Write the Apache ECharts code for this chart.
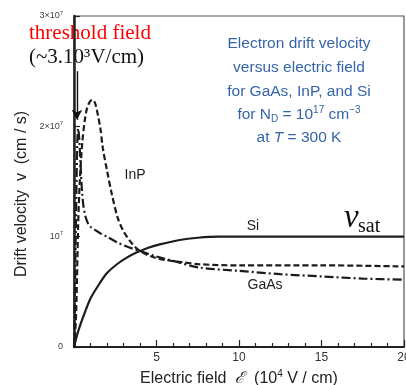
<!DOCTYPE html>
<html>
<head>
<meta charset="utf-8">
<script src="https://cdn.jsdelivr.net/npm/echarts@6/dist/echarts.min.js"></script>
<style>
  html, body { margin: 0; padding: 0; background: #fff; }
  #chart { width: 406px; height: 385px; }
</style>
</head>
<body>
<div id="chart"></div>
<script>
// Datos (campo en 10^4 V/cm, velocidad en 10^7 cm/s)
const gaasE = [0, 0.04, 0.08, 0.12, 0.16, 0.2, 0.25, 0.3, 0.35, 0.4, 0.45, 0.5, 0.58, 0.7, 0.85, 1.0, 1.3, 1.6, 2.0, 2.6, 3.2, 4.0, 5.0, 6.0, 7.6, 10, 12.5, 15, 17.5, 20];
const gaasV = [0, 0.35, 0.75, 1.15, 1.55, 1.85, 1.98, 1.92, 1.8, 1.65, 1.5, 1.38, 1.27, 1.18, 1.12, 1.09, 1.06, 1.03, 1.0, 0.95, 0.91, 0.87, 0.82, 0.78, 0.72, 0.69, 0.66, 0.64, 0.62, 0.61];

const inpE = [0, 0.1, 0.18, 0.25, 0.35, 0.5, 0.65, 0.8, 1.0, 1.15, 1.3, 1.45, 1.6, 1.75, 2.0, 2.3, 2.65, 3.0, 3.5, 4.0, 4.7, 5.5, 6.5, 7.6, 10, 15, 20];
const inpV = [0, 0.2, 0.6, 1.1, 1.5, 1.85, 2.05, 2.17, 2.23, 2.24, 2.2, 2.1, 1.98, 1.8, 1.6, 1.38, 1.17, 1.05, 0.94, 0.87, 0.82, 0.79, 0.77, 0.75, 0.74, 0.74, 0.73];

const siE = [0, 0.25, 0.55, 1.0, 1.57, 2.0, 2.6, 3.2, 3.85, 4.5, 5.2, 6.4, 7.5, 8.8, 10, 12.5, 15, 17.5, 20];
const siV = [0, 0.14, 0.27, 0.44, 0.58, 0.67, 0.75, 0.81, 0.86, 0.9, 0.93, 0.97, 0.99, 1.0, 1.0, 1.0, 1.0, 1.0, 1.0];

const xTicks = [0, 5, 10, 15, 20];
const yTicks = [0, 1, 2, 3];

// Flecha del campo umbral (coordenadas de datos)
const arrowE = 0.18;
const arrowFrom = 2.5;
const arrowTo = 2.06;

const toPairs = (xs, ys) => xs.map((x, i) => [x, ys[i]]);

const chart = echarts.init(document.getElementById('chart'));

const lineColor = '#1c1c1c';
const sans = 'Liberation Sans, Arial, sans-serif';
const serif = 'Liberation Serif, Times New Roman, serif';
const blue = '#3565a8';
const blueFont = '15.5px ' + sans;

const option = {
    animation: false,
    grid: {
        left: 74, right: 2, top: 16, bottom: 38,
        outerBoundsMode: 'none',
        show: true,
        borderColor: '#555',
        borderWidth: 1.2
    },
    xAxis: {
        type: 'value',
        min: xTicks[0],
        max: xTicks[xTicks.length - 1],
        interval: 5,
        name: 'Electric field  {e|ℰ}  (10{sup|4} V / cm)',
        nameLocation: 'middle',
        nameGap: 21,
        nameTextStyle: {
            fontFamily: sans, fontSize: 16, color: '#222',
            rich: {
                e: { fontFamily: serif, fontStyle: 'italic', fontSize: 16, color: '#222' },
                sup: { fontSize: 10, color: '#222', padding: [0, 0, 9, 0] }
            }
        },
        axisLine: { lineStyle: { color: '#222', width: 2 } },
        axisTick: { inside: true, length: 7, lineStyle: { color: '#222', width: 1.2 } },
        minorTick: { show: true, splitNumber: 5, length: 4, lineStyle: { color: '#222', width: 1.2 } },
        splitLine: { show: false },
        axisLabel: {
            fontFamily: sans, fontSize: 12, color: '#333', margin: 5,
            formatter: v => (v === 0 ? '' : String(v))
        }
    },
    yAxis: {
        type: 'value',
        min: yTicks[0],
        max: yTicks[yTicks.length - 1],
        interval: 1,
        axisLine: { show: true, lineStyle: { color: '#222', width: 2.5 } },
        axisTick: { show: true, inside: true, length: 6, lineStyle: { color: '#222', width: 1.2 } },
        splitLine: { show: false },
        axisLabel: {
            fontFamily: sans, fontSize: 9, color: '#444', margin: 11,
            formatter: v => (v === 0 ? '0' : v === 1 ? '10{sup|7}' : v + '×10{sup|7}'),
            rich: { sup: { fontSize: 6, color: '#444', padding: [0, 0, 6, 0] } }
        }
    },
    series: [
        {
            name: 'GaAs',
            type: 'line',
            data: toPairs(gaasE, gaasV),
            smooth: 0.3,
            showSymbol: false,
            lineStyle: { color: lineColor, width: 2.2, type: [9, 3, 2, 3] },
            markLine: {
                silent: true,
                symbol: ['none', 'arrow'],
                symbolSize: [8, 10],
                label: { show: false },
                lineStyle: { color: '#111', width: 1.4, type: 'solid' },
                data: [[{ coord: [arrowE, arrowFrom] }, { coord: [arrowE, arrowTo] }]]
            }
        },
        {
            name: 'InP',
            type: 'line',
            data: toPairs(inpE, inpV),
            smooth: 0.3,
            showSymbol: false,
            lineStyle: { color: lineColor, width: 2.2, type: [6, 3] }
        },
        {
            name: 'Si',
            type: 'line',
            data: toPairs(siE, siV),
            smooth: 0.3,
            showSymbol: false,
            lineStyle: { color: lineColor, width: 2.2, type: 'solid' }
        }
    ],
    graphic: [
        // Nombre del eje Y
        {
            type: 'text', x: 22, y: 194, rotation: Math.PI / 2,
            style: {
                text: 'Drift velocity  v  (cm / s)', fill: '#222', font: '16px ' + sans,
                align: 'center', verticalAlign: 'middle'
            }
        },

        { type: 'text', left: 29, top: 23, style: { text: 'threshold field', fill: '#ff0000', font: '21px ' + serif } },
        { type: 'text', left: 29, top: 47, style: { text: '(~3.10³V/cm)', fill: '#111', font: '21px ' + serif } },

        { type: 'text', x: 299, y: 44, style: { text: 'Electron drift velocity', fill: blue, font: blueFont, align: 'center', verticalAlign: 'middle' } },
        { type: 'text', x: 299, y: 68, style: { text: 'versus electric field', fill: blue, font: blueFont, align: 'center', verticalAlign: 'middle' } },
        { type: 'text', x: 299, y: 92, style: { text: 'for GaAs, InP, and Si', fill: blue, font: blueFont, align: 'center', verticalAlign: 'middle' } },
        {
            type: 'text', x: 299, y: 115,
            style: {
                text: 'for N{sub|D} = 10{sup|17} cm{sup|−3}',
                fill: blue, font: blueFont, align: 'center', verticalAlign: 'middle',
                rich: {
                    sub: { fontSize: 10, fill: blue, fontFamily: sans, padding: [8, 0, 0, 0] },
                    sup: { fontSize: 10, fill: blue, fontFamily: sans, padding: [0, 0, 9, 0] }
                }
            }
        },
        {
            type: 'text', x: 299, y: 138,
            style: {
                text: 'at {it|T} = 300 K',
                fill: blue, font: blueFont, align: 'center', verticalAlign: 'middle',
                rich: { it: { fontStyle: 'italic', fontSize: 15.5, fill: blue, fontFamily: sans } }
            }
        },

        { type: 'text', x: 135, y: 175, style: { text: 'InP', fill: '#222', font: '14px ' + sans, align: 'center', verticalAlign: 'middle' } },
        { type: 'text', x: 253, y: 226, style: { text: 'Si', fill: '#222', font: '14px ' + sans, align: 'center', verticalAlign: 'middle' } },
        { type: 'text', x: 265, y: 285, style: { text: 'GaAs', fill: '#222', font: '14px ' + sans, align: 'center', verticalAlign: 'middle' } },

        { type: 'text', x: 344, y: 202, style: { text: 'v', fill: '#111', font: 'italic 33px ' + serif } },
        { type: 'text', x: 358, y: 217, style: { text: 'sat', fill: '#111', font: '20px ' + serif } }
    ]
};

chart.setOption(option);
</script>
</body>
</html>
